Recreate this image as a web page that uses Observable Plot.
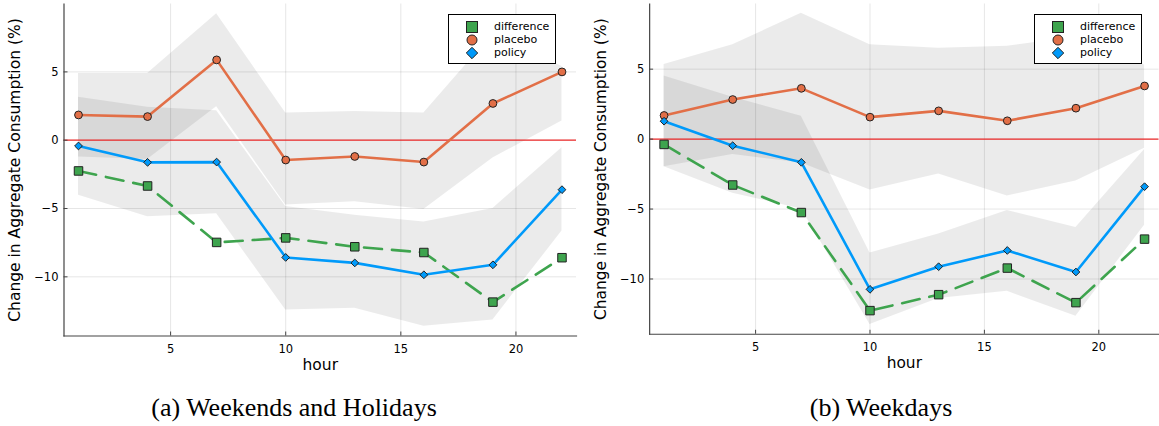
<!DOCTYPE html>
<html>
<head>
<meta charset="utf-8">
<script src="https://cdn.jsdelivr.net/npm/d3@7"></script>
<script src="https://cdn.jsdelivr.net/npm/@observablehq/plot@0.6"></script>
<style>
  html, body { margin: 0; padding: 0; background: #fff; }
  #wrap { position: relative; width: 1159px; height: 426px; overflow: hidden; background: #fff; font-family: "DejaVu Sans", sans-serif; }
  .panel { position: absolute; top: 0; }
  g[aria-label="x-axis label"], g[aria-label="y-axis label"] { font-size: 15.5px; }
  .legend { position: absolute; top: 14px; width: 108px; height: 50px; border: 1px solid #000; box-sizing: border-box; background: #fff; }
  .legend .row { position: absolute; left: 0; height: 13px; width: 100%; }
  .legend svg { position: absolute; left: 17px; top: -6px; }
  .legend span { position: absolute; left: 45px; top: -7px; font-size: 11px; line-height: 13px; color: #000; font-family: "DejaVu Sans", sans-serif; white-space: nowrap; }
  .caption { position: absolute; top: 395px; font-family: "Liberation Serif", "Times New Roman", serif; font-size: 26px; line-height: 26px; color: #000; white-space: nowrap; transform: translateX(-50%); }
</style>
</head>
<body>
<div id="wrap">
  <div id="pa" class="panel" style="left:0px"></div>
  <div id="pb" class="panel" style="left:580px"></div>
  <div id="la" class="legend" style="left:448px"></div>
  <div id="lb" class="legend" style="left:1034px"></div>
  <div id="ca" class="caption" style="left:294px"></div>
  <div id="cb" class="caption" style="left:881px"></div>
</div>
<script>
// ---------------- data ----------------
const hours = [1, 4, 7, 10, 13, 16, 19, 22];
const xTicks = [5, 10, 15, 20];
const yTicks = [-10, -5, 0, 5];
const seriesNames = ["difference", "placebo", "policy"];
const captions = ["(a) Weekends and Holidays", "(b) Weekdays"];
const xLabel = "hour";
const yLabel = "Change in Aggregate Consumption (%)";

// (a) Weekends and Holidays
const weDifference = [-2.25, -3.35, -7.48, -7.15, -7.8, -8.22, -11.85, -8.6];
const wePlacebo    = [1.85, 1.73, 5.88, -1.45, -1.19, -1.6, 2.69, 5.0];
const wePolicy     = [-0.42, -1.62, -1.6, -8.58, -8.98, -9.85, -9.12, -3.62];
const wePlaceboLo  = [-1.22, -1.42, 2.45, -4.75, -4.5, -5.08, -1.3, 1.4];
const wePlaceboHi  = [4.88, 4.88, 9.25, 2.0, 2.1, 2.0, 7.8, 5.4];
const wePolicyLo   = [-4.02, -5.61, -5.39, -12.42, -12.3, -13.62, -13.15, -6.65];
const wePolicyHi   = [3.15, 2.41, 2.15, -4.85, -5.5, -5.98, -5.0, -0.56];

// (b) Weekdays
const wdDifference = [-0.38, -3.28, -5.25, -12.26, -11.12, -9.22, -11.69, -7.15];
const wdPlacebo    = [1.69, 2.83, 3.63, 1.57, 2.02, 1.31, 2.21, 3.80];
const wdPolicy     = [1.28, -0.47, -1.66, -10.74, -9.12, -7.96, -9.50, -3.40];
const wdPlaceboLo  = [-1.97, -1.1, -1.7, -3.63, -2.49, -4.06, -2.99, -0.65];
const wdPlaceboHi  = [5.34, 6.74, 9.0, 6.75, 6.5, 6.63, 7.3, 5.3];
const wdPolicyLo   = [-1.97, -3.87, -5.0, -13.25, -11.4, -10.88, -12.66, -6.15];
const wdPolicyHi   = [4.51, 3.0, 1.64, -8.15, -6.79, -5.1, -6.32, -0.75];

const colors = { difference: "#3EA44E", placebo: "#E26F47", policy: "#009AFA" };

// ---------------- chart ----------------
const fmt = d => d < 0 ? "\u2212" + (-d) : String(d);

function panel(o) {
  const rows = hours.map((h, i) => ({
    hour: h,
    difference: o.diff[i], placebo: o.plac[i], policy: o.pol[i],
    plLo: o.plLo[i], plHi: o.plHi[i], poLo: o.poLo[i], poHi: o.poHi[i]
  }));
  return Plot.plot({
    width: o.width, height: 385,
    marginLeft: o.ml, marginRight: o.mr, marginTop: 3.5, marginBottom: 49.5,
    style: { fontFamily: "DejaVu Sans", fontSize: "11.5px", background: "transparent", overflow: "visible" },
    x: { domain: [0.37, 22.63] },
    y: { domain: o.ydom },
    marks: [
      Plot.gridX(xTicks, { stroke: "#000", strokeOpacity: 0.1, strokeWidth: 1 }),
      Plot.gridY(yTicks, { stroke: "#000", strokeOpacity: 0.1, strokeWidth: 1 }),
      Plot.areaY(rows, { x: "hour", y1: "plLo", y2: "plHi", fill: "#000", fillOpacity: 0.08 }),
      Plot.areaY(rows, { x: "hour", y1: "poLo", y2: "poHi", fill: "#000", fillOpacity: 0.08 }),
      Plot.ruleY([0], { stroke: "#ee2a2a", strokeWidth: 1.2 }),
      Plot.lineY(rows, { x: "hour", y: "difference", stroke: colors.difference, strokeWidth: 2.6, strokeDasharray: "18,10" }),
      Plot.dot(rows, { x: "hour", y: "difference", symbol: "square", r: 4.8, fill: colors.difference, stroke: "#222", strokeWidth: 1 }),
      Plot.lineY(rows, { x: "hour", y: "placebo", stroke: colors.placebo, strokeWidth: 2.6 }),
      Plot.dot(rows, { x: "hour", y: "placebo", symbol: "circle", r: 3.9, fill: colors.placebo, stroke: "#222", strokeWidth: 1 }),
      Plot.lineY(rows, { x: "hour", y: "policy", stroke: colors.policy, strokeWidth: 2.6 }),
      Plot.dot(rows, { x: "hour", y: "policy", symbol: "diamond2", r: 3.5, fill: colors.policy, stroke: "#222", strokeWidth: 1 }),
      Plot.frame({ anchor: "left", stroke: "#444", strokeWidth: 1.2 }),
      Plot.frame({ anchor: "bottom", stroke: "#444", strokeWidth: 1.2 }),
      Plot.axisX(xTicks, { tickSize: -4, tickFormat: () => "", label: null, stroke: "#444" }),
      Plot.axisY(yTicks, { tickSize: -4, tickFormat: () => "", label: null, stroke: "#444" }),
      Plot.axisX(xTicks, { tickSize: 0, tickPadding: 8.5, tickFormat: fmt, label: xLabel, labelAnchor: "center", labelArrow: "none", labelOffset: 34 }),
      Plot.axisY(yTicks, { tickSize: 0, tickPadding: 5.5, tickFormat: fmt, label: yLabel, labelAnchor: "center", labelArrow: "none", labelOffset: 55 })
    ]
  });
}

document.getElementById("pa").appendChild(panel({
  width: 580, ml: 63.5, mr: 4, ydom: [-14.33, 9.97],
  diff: weDifference, plac: wePlacebo, pol: wePolicy,
  plLo: wePlaceboLo, plHi: wePlaceboHi, poLo: wePolicyLo, poHi: wePolicyHi
}));
document.getElementById("pb").appendChild(panel({
  width: 582, ml: 69.5, mr: 0.5, ydom: [-13.95, 9.66],
  diff: wdDifference, plac: wdPlacebo, pol: wdPolicy,
  plLo: wdPlaceboLo, plHi: wdPlaceboHi, poLo: wdPolicyLo, poHi: wdPolicyHi
}));

// ---------------- legends ----------------
const symbolSvg = {
  difference: c => `<rect x="0.5" y="0.5" width="11" height="11" fill="${c}" stroke="#222" stroke-width="1"/>`,
  placebo: c => `<circle cx="6" cy="6" r="5" fill="${c}" stroke="#222" stroke-width="1"/>`,
  policy: c => `<path d="M6,0.3 L11.7,6 L6,11.7 L0.3,6 Z" fill="${c}" stroke="#222" stroke-width="1"/>`
};
for (const id of ["la", "lb"]) {
  const box = document.getElementById(id);
  seriesNames.forEach((name, i) => {
    const row = document.createElement("div");
    row.className = "row";
    row.style.top = (12.2 + 12.9 * i) + "px";
    row.innerHTML = `<svg width="12" height="12" viewBox="0 0 12 12">${symbolSvg[name](colors[name])}</svg><span>${name}</span>`;
    box.appendChild(row);
  });
}
document.getElementById("ca").textContent = captions[0];
document.getElementById("cb").textContent = captions[1];
</script>
</body>
</html>
